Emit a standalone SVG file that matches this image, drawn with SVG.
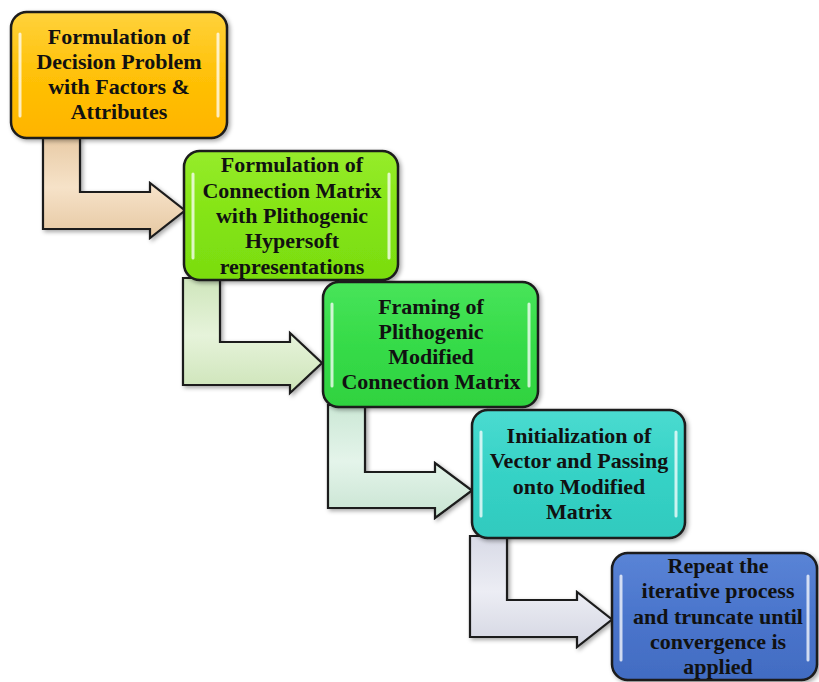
<svg xmlns="http://www.w3.org/2000/svg" width="819" height="682" viewBox="0 0 819 682">
<defs>
<linearGradient id="gOrange" x1="0" y1="0" x2="0" y2="1"><stop offset="0" stop-color="#FFD23C"/><stop offset="0.5" stop-color="#FFC107"/><stop offset="1" stop-color="#FFB400"/></linearGradient>
<linearGradient id="gLime" x1="0" y1="0" x2="0" y2="1"><stop offset="0" stop-color="#96EC2C"/><stop offset="0.5" stop-color="#84E414"/><stop offset="1" stop-color="#7ADC10"/></linearGradient>
<linearGradient id="gGreen" x1="0" y1="0" x2="0" y2="1"><stop offset="0" stop-color="#48E45A"/><stop offset="0.5" stop-color="#36DB48"/><stop offset="1" stop-color="#2FD240"/></linearGradient>
<linearGradient id="gTeal" x1="0" y1="0" x2="0" y2="1"><stop offset="0" stop-color="#4ADBD0"/><stop offset="0.5" stop-color="#36D2C6"/><stop offset="1" stop-color="#30CABE"/></linearGradient>
<linearGradient id="gBlue" x1="0" y1="0" x2="0" y2="1"><stop offset="0" stop-color="#5A84D6"/><stop offset="0.5" stop-color="#4A75CC"/><stop offset="1" stop-color="#426CC2"/></linearGradient>
<linearGradient id="cTan" x1="0" y1="0" x2="0" y2="1"><stop offset="0" stop-color="#E8CBA6"/><stop offset="0.5" stop-color="#F6E2C8"/><stop offset="1" stop-color="#E6C8A2"/></linearGradient>
<linearGradient id="cLime" x1="0" y1="0" x2="0" y2="1"><stop offset="0" stop-color="#CFE6BC"/><stop offset="0.5" stop-color="#E6F3DA"/><stop offset="1" stop-color="#CDE4B8"/></linearGradient>
<linearGradient id="cMint" x1="0" y1="0" x2="0" y2="1"><stop offset="0" stop-color="#CCE8D6"/><stop offset="0.5" stop-color="#E4F4EA"/><stop offset="1" stop-color="#C8E4D2"/></linearGradient>
<linearGradient id="cGrey" x1="0" y1="0" x2="0" y2="1"><stop offset="0" stop-color="#D8DAE6"/><stop offset="0.5" stop-color="#ECEDF4"/><stop offset="1" stop-color="#D4D6E2"/></linearGradient>
<filter id="sh" x="-10%" y="-10%" width="125%" height="125%"><feDropShadow dx="2" dy="2" stdDeviation="2" flood-color="#000" flood-opacity="0.35"/></filter>
</defs>
<style>
.box{stroke:#1a1a1a;stroke-width:2.5;filter:url(#sh)}
.conn{stroke:#1a1a1a;stroke-width:2.2;stroke-linejoin:miter;filter:url(#sh)}
.gl{stroke:#ffffff;stroke-opacity:0.75;stroke-width:3;stroke-linecap:round;fill:none}
.t{font-family:"Liberation Serif","Times New Roman",serif;font-weight:bold;font-size:22px;fill:#111;text-anchor:middle}
</style>
<g id="connectors">
<path class="conn" fill="url(#cTan)" d="M43,137 V229 H150 V238 L185,210.5 L150,183 V192 H80 V137 Z"/>
<path class="conn" fill="url(#cLime)" d="M183,278 V385 H290 V393 L322,363 L290,333 V342 H220 V278 Z"/>
<path class="conn" fill="url(#cMint)" d="M328,405 V508 H435 V518 L472,490.5 L435,463 V472 H365 V405 Z"/>
<path class="conn" fill="url(#cGrey)" d="M470,536 V637 H577 V647 L612,619.5 L577,592 V600 H507 V536 Z"/>
</g>
<g id="node1">
<rect class="box" x="11" y="12" width="216" height="126" rx="16" fill="url(#gOrange)"/>
<line class="gl" x1="20" y1="34" x2="20" y2="116"/><line class="gl" x1="218" y1="34" x2="218" y2="116"/>
<text class="t" x="119" y="44">Formulation of</text>
<text class="t" x="119" y="69">Decision Problem</text>
<text class="t" x="119" y="94">with Factors &amp;</text>
<text class="t" x="119" y="119">Attributes</text>
</g>
<g id="node2">
<rect class="box" x="184" y="151" width="214" height="129" rx="16" fill="url(#gLime)"/>
<line class="gl" x1="193" y1="174" x2="193" y2="258"/><line class="gl" x1="389" y1="174" x2="389" y2="258"/>
<text class="t" x="292" y="172">Formulation of</text>
<text class="t" x="292" y="198">Connection Matrix</text>
<text class="t" x="292" y="223">with Plithogenic</text>
<text class="t" x="292" y="248">Hypersoft</text>
<text class="t" x="292" y="274">representations</text>
</g>
<g id="node3">
<rect class="box" x="323" y="282" width="215" height="125" rx="16" fill="url(#gGreen)"/>
<line class="gl" x1="332" y1="304" x2="332" y2="386"/><line class="gl" x1="529" y1="304" x2="529" y2="386"/>
<text class="t" x="431" y="314">Framing of</text>
<text class="t" x="431" y="339">Plithogenic</text>
<text class="t" x="431" y="364">Modified</text>
<text class="t" x="431" y="389">Connection Matrix</text>
</g>
<g id="node4">
<rect class="box" x="472" y="410" width="213" height="128" rx="16" fill="url(#gTeal)"/>
<line class="gl" x1="481" y1="432" x2="481" y2="516"/><line class="gl" x1="676" y1="432" x2="676" y2="516"/>
<text class="t" x="579" y="443">Initialization of</text>
<text class="t" x="579" y="468">Vector and Passing</text>
<text class="t" x="579" y="494">onto Modified</text>
<text class="t" x="579" y="519">Matrix</text>
</g>
<g id="node5">
<rect class="box" x="612" y="553" width="205" height="127" rx="16" fill="url(#gBlue)"/>
<line class="gl" x1="621" y1="576" x2="621" y2="660"/><line class="gl" x1="808" y1="576" x2="808" y2="660"/>
<text class="t" x="718" y="573">Repeat the</text>
<text class="t" x="718" y="598">iterative process</text>
<text class="t" x="718" y="624">and truncate until</text>
<text class="t" x="718" y="649">convergence is</text>
<text class="t" x="718" y="674">applied</text>
</g>
</svg>
